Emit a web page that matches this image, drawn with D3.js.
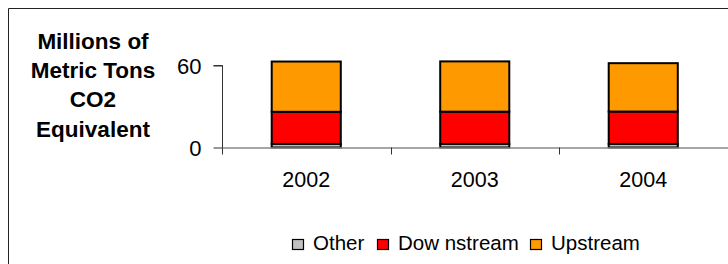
<!DOCTYPE html>
<html><head><meta charset="utf-8">
<script src="https://cdn.jsdelivr.net/npm/d3@7"></script>
<style>body{margin:0;background:#fff}svg{display:block;font-family:"Liberation Sans",Arial,sans-serif}</style>
</head><body>
<svg id="c" width="728" height="264"></svg>
<script>
const years = ["2002", "2003", "2004"];
const other = [2.6, 2.6, 2.6];
const downstream = [23.5, 23.6, 23.7];
const upstream = [36.8, 36.8, 35.4];
const seriesNames = ["Other", "Dow nstream", "Upstream"];
const seriesColors = ["#c0c0c0", "#ff0000", "#ff9900"];
const yTicks = [0, 60];
const titleLines = ["Millions of", "Metric Tons", "CO2", "Equivalent"];

const svg = d3.select("#c");
// frame
svg.append("path").attr("d", "M8.5,270V8.5H740").attr("fill", "none").attr("stroke", "#222").attr("stroke-width", 1);

const x0 = 222, x1 = 896, yZero = 147.5;
const x = d3.scaleBand().domain(years.concat(["_"])).range([x0, x1]).paddingInner(0.59).paddingOuter(0.295);
const y = d3.scaleLinear().domain([0, 60]).range([yZero, 65.5]);

const data = years.map((yr, i) => ({year: yr, Other: other[i], Down: downstream[i], Up: upstream[i]}));
const stack = d3.stack().keys(["Other", "Down", "Up"])(data);

const g = svg.append("g");
stack.forEach((s, si) => {
  g.selectAll(null).data(s).enter().append("rect")
    .attr("x", d => x(d.data.year))
    .attr("width", x.bandwidth())
    .attr("y", d => y(d[1]))
    .attr("height", d => y(d[0]) - y(d[1]))
    .attr("fill", seriesColors[si])
    .attr("stroke", "#000").attr("stroke-width", 2);
});

// x axis baseline
svg.append("line").attr("x1", x0).attr("x2", 728).attr("y1", yZero + 0.5).attr("y2", yZero + 0.5).attr("stroke", "#888").attr("stroke-width", 1.5);
// category ticks
const step = x.step();
[0, 1, 2, 3].forEach(i => {
  const xt = Math.round(x0 + step * i) + 0.5;
  svg.append("line").attr("x1", xt).attr("x2", xt).attr("y1", yZero).attr("y2", yZero + 7).attr("stroke", "#333");
});
// y axis
const ya = d3.axisLeft(y).tickValues(yTicks).tickSize(9).tickPadding(12);
const yg = svg.append("g").attr("transform", `translate(${x0 + 0.5},0)`).call(ya);
yg.select(".domain").attr("stroke", "#333").attr("d", `M-9,${y(60)}H0V${yZero}`);
yg.selectAll(".tick line").attr("stroke", "#333");
yg.selectAll("text").attr("font-size", 22).attr("font-family", "Liberation Sans, Arial").attr("fill", "#000").attr("dy", "0.36em");

// year labels
svg.selectAll(null).data(years).enter().append("text")
  .attr("x", d => x(d) + x.bandwidth() / 2).attr("y", 187)
  .attr("text-anchor", "middle").attr("font-size", 21.5).text(d => d);

// title
svg.append("g").selectAll("text").data(titleLines).enter().append("text")
  .attr("x", 93).attr("y", (d, i) => 49 + i * 29.2)
  .attr("text-anchor", "middle").attr("font-size", 22.5).attr("font-weight", "bold").text(d => d);

// legend
const legX = [292, 377, 530];
seriesNames.forEach((n, i) => {
  svg.append("rect").attr("x", legX[i] + 0.5).attr("y", 239.5).attr("width", 11).attr("height", 10)
    .attr("fill", seriesColors[i]).attr("stroke", "#000").attr("stroke-width", 1.2);
  svg.append("text").attr("x", legX[i] + 21).attr("y", 250).attr("font-size", 20.5).text(n);
});
</script>
</body></html>
